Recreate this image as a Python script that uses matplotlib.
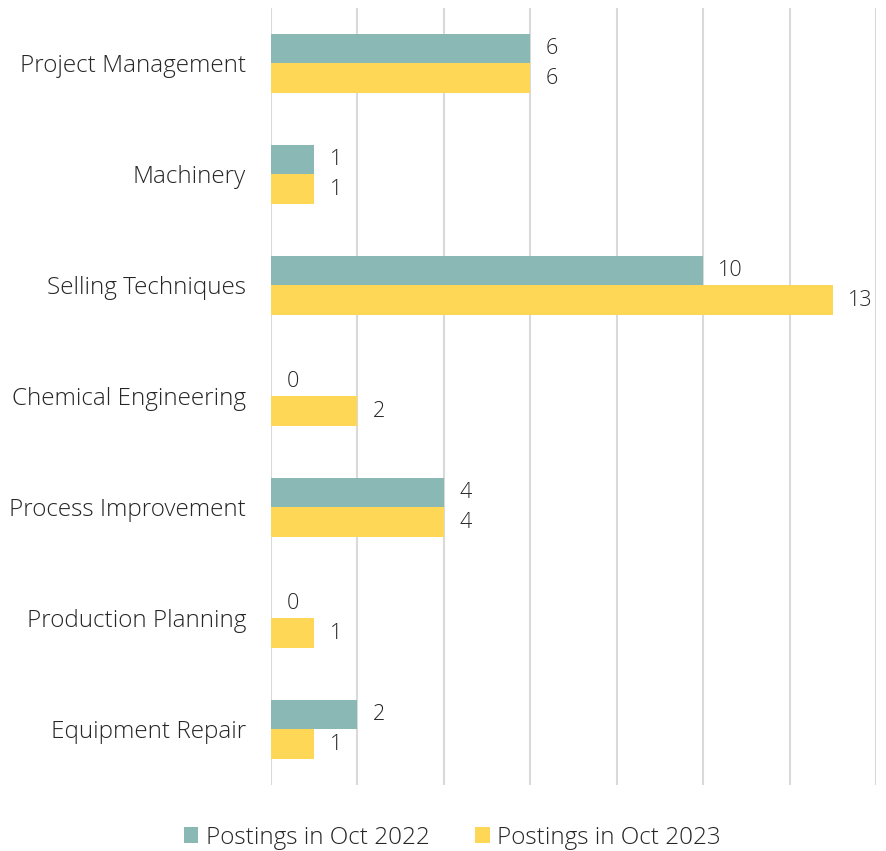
import matplotlib.pyplot as plt
import numpy as np

# skill categories, top to bottom
skills = ["Project Management", "Machinery", "Selling Techniques", "Chemical Engineering",
          "Process Improvement", "Production Planning", "Equipment Repair"]
oct_2022 = [6, 1, 10, 0, 4, 0, 2]
oct_2023 = [6, 1, 13, 2, 4, 1, 1]
series_names = ["Postings in Oct 2022", "Postings in Oct 2023"]

teal = "#8AB8B4"
yellow = "#FFD757"
text_col = "#262626"

plt.rcParams['font.family'] = ['Open Sans', 'DejaVu Sans']
plt.rcParams['font.weight'] = 'light'

fig = plt.figure(figsize=(8.87, 8.51), dpi=100)
ax = fig.add_axes([0.3055, 0.0776, 0.6821, 0.913])

pos = np.arange(len(skills))
h = 0.262
b1 = ax.barh(pos - h / 2, oct_2022, height=h, color=teal, label=series_names[0], zorder=3)
b2 = ax.barh(pos + h / 2, oct_2023, height=h, color=yellow, label=series_names[1], zorder=3)

# value labels at the end of each bar
for bars in (b1, b2):
    ax.bar_label(bars, padding=11, fontsize=15.5, color=text_col, fontweight='light')

ax.set_xlim(0, 14)
ax.set_ylim(len(skills) - 0.5, -0.5)
ax.set_xticks(np.arange(0, 15, 2))
ax.set_xticklabels([])
ax.tick_params(axis='x', length=0)
ax.set_yticks(pos)
ax.set_yticklabels(skills, fontsize=17.5, color=text_col, fontweight='light')
ax.tick_params(axis='y', length=0, pad=18)
ax.grid(axis='x', color="#D9D9D9", linewidth=1.5, zorder=0)
for s in ax.spines.values():
    s.set_visible(False)

fig.legend(handles=[b1, b2], labels=series_names, loc='lower center', ncol=2,
           bbox_to_anchor=(0.51, -0.024), frameon=False, fontsize=17.5,
           handlelength=0.6, handleheight=0.6, handletextpad=0.3, columnspacing=1.9,
           labelcolor=text_col)

fig.savefig("out.png", dpi=100)
